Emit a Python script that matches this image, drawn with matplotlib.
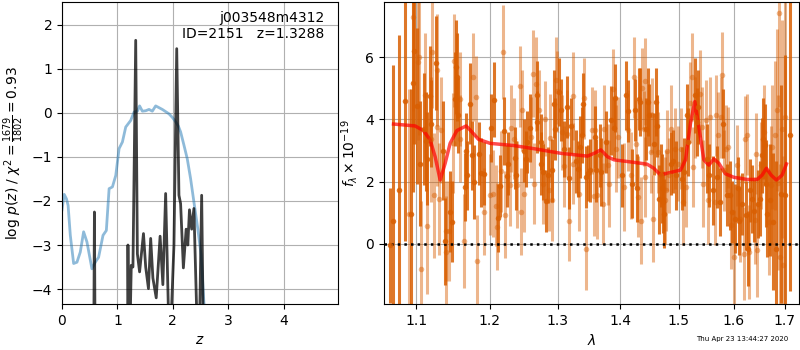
import matplotlib
matplotlib.use('Agg')
import matplotlib.pyplot as plt
from matplotlib.ticker import NullLocator

# --- left panel: log p(z) ---
z_chi2 = [0.00, 0.04, 0.08, 0.11, 0.15, 0.21, 0.27, 0.33, 0.39, 0.45,
          0.54, 0.60, 0.66, 0.74, 0.80, 0.85, 0.91, 0.97, 1.03, 1.09,
          1.15, 1.24, 1.30, 1.36, 1.40, 1.45, 1.51, 1.57, 1.63, 1.69,
          1.75, 1.81, 1.87, 1.93, 1.99, 2.05, 2.10, 2.14, 2.20, 2.26,
          2.32, 2.38, 2.45, 2.51, 2.56, 2.62]
logpz_chi2 = [-2.20, -1.85, -1.95, -2.10, -2.78, -3.42, -3.39, -3.16, -2.70, -2.93,
              -3.54, -3.39, -3.28, -2.78, -2.67, -1.72, -1.68, -1.42, -0.81, -0.66,
              -0.32, -0.17, 0.02, 0.04, 0.16, 0.04, 0.05, 0.08, 0.04, 0.16,
              0.12, 0.08, 0.03, -0.02, -0.10, -0.20, -0.30, -0.43, -0.73, -1.04,
              -1.49, -2.02, -2.63, -3.23, -4.30, -5.0]

z_fit = [0.57, 0.585, 0.60, 1.18, 1.19, 1.21, 1.25, 1.28, 1.33, 1.36,
         1.40, 1.47, 1.51, 1.56, 1.60, 1.64, 1.70, 1.77, 1.82, 1.87,
         1.92, 1.96, 2.02, 2.07, 2.11, 2.14, 2.19, 2.24, 2.27, 2.30,
         2.34, 2.38, 2.43, 2.48, 2.52, 2.55]
logpz_fit = [-6.0, -2.25, -6.0, -6.0, -3.0, -6.0, -3.46, -3.50, 1.65, -3.20,
             -3.61, -2.74, -3.50, -3.99, -2.85, -3.75, -4.20, -2.80, -3.90, -1.83,
             -4.50, -5.0, -3.0, 1.46, -1.87, -2.06, -3.52, -2.64, -3.0, -2.20,
             -2.64, -2.17, -4.5, -5.0, -1.87, -5.0]

# --- right panel: spectrum ---
dark_wave = [1.066, 1.070, 1.078, 1.085, 1.093, 1.096, 1.097, 1.101,
             1.105, 1.110, 1.113, 1.114, 1.118, 1.119, 1.126, 1.136,
             1.138, 1.145, 1.147, 1.151, 1.153, 1.154, 1.156, 1.165,
             1.167, 1.168, 1.172, 1.175, 1.178, 1.185, 1.187, 1.192,
             1.202, 1.206, 1.211, 1.215, 1.220, 1.224, 1.226, 1.236,
             1.237, 1.249, 1.252, 1.254, 1.258, 1.268, 1.269, 1.274,
             1.275, 1.278, 1.282, 1.285, 1.291, 1.294, 1.296, 1.302,
             1.305, 1.310, 1.314, 1.317, 1.321, 1.328, 1.331, 1.335,
             1.338, 1.339, 1.344, 1.348, 1.351, 1.359,
             1.360, 1.366, 1.368, 1.376, 1.384, 1.389, 1.391, 1.403,
             1.410, 1.413, 1.420, 1.424, 1.428, 1.431, 1.433, 1.443,
             1.447, 1.448, 1.457, 1.460, 1.461, 1.465, 1.468, 1.470,
             1.472, 1.474, 1.486, 1.490, 1.495, 1.505, 1.510, 1.514,
             1.517, 1.529, 1.532,
             1.534, 1.550, 1.555, 1.561, 1.570, 1.574, 1.581, 1.587,
             1.594, 1.598, 1.603, 1.608, 1.611, 1.616, 1.624, 1.628,
             1.632, 1.635, 1.639, 1.647, 1.650, 1.655, 1.657, 1.661,
             1.663, 1.665, 1.671, 1.677, 1.682, 1.692, 1.701, 1.710]
dark_flux = [-0.05, 0.74, 1.72, 4.60, 0.96, 5.17, 6.20, 4.43,
             2.58, 3.70, 3.29, 2.74, 4.75, 3.86, 5.81, 3.00,
             0.09, 1.03, 0.71, 4.66, 5.68, 5.36, 4.13, 1.83,
             3.00, 2.20, 4.50, 2.84, 1.99, 2.90, 2.29, 2.26,
             3.72, 4.63, 0.83, 1.85, 3.63, 2.17, 2.58, 2.76,
             2.20, 3.00, 2.74, 3.27, 3.73, 4.77, 3.91, 3.27,
             2.58, 2.31, 1.37, 2.20, 2.36, 4.50, 3.70, 4.88,
             4.29, 3.06, 4.40, 2.12, 3.79, 2.65, 2.42, 3.11,
             3.51, 4.50, 2.15, 2.29, 2.36, 3.43,
             2.36, 2.84, 2.31, 3.27, 3.97, 3.72, 4.68, 2.20,
             4.77, 4.26, 1.94, 4.29, 1.80, 4.66, 4.56, 3.68,
             4.56, 4.15, 3.22, 4.56, 3.79, 1.43, 2.20, 1.78,
             1.35, 0.97, 2.58, 2.65, 2.20, 2.10, 2.31, 4.13,
             3.27, 4.77, 3.91,
             4.40, 2.74, 2.20, 1.72, 2.15, 1.35, 3.86, 1.58,
             1.56, 1.03, 0.81, 1.78, 0.73, 1.29, 0.92, -0.15,
             1.72, 1.45, 1.05, 1.29, 1.45, 2.84, 3.38, 3.19,
             1.94, 0.97, 1.40, 0.71, -0.15, 1.61, 1.56, 3.50]
dark_err = [1.85, 5.0, 5.0, 4.5, 4.0, 3.5, 3.0, 2.5,
            2.0, 1.8, 1.6, 1.5, 1.6, 1.4, 1.5, 1.6,
            1.4, 1.3, 1.3, 1.5, 1.5, 1.4, 1.2, 1.1,
            1.2, 1.1, 1.3, 1.1, 1.2, 1.0, 1.1, 1.0,
            1.1, 1.2, 1.1, 1.0, 1.1, 1.0, 1.0, 1.0,
            1.1, 1.0, 0.9, 1.0, 1.1, 1.1, 1.0, 0.9,
            1.0, 0.9, 1.0, 0.9, 1.0, 1.1, 1.0, 1.1,
            1.0, 0.9, 1.0, 1.0, 0.9, 1.0, 0.9, 1.0,
            0.9, 1.0, 1.0, 0.9, 1.0, 1.0,
            1.0, 1.0, 1.1, 1.0, 1.1, 1.0, 1.1, 1.0,
            1.1, 1.0, 1.1, 1.0, 1.1, 1.0, 1.1, 1.0,
            1.1, 1.0, 1.0, 1.1, 1.0, 1.1, 1.0, 1.1,
            1.0, 1.1, 1.0, 1.0, 1.1, 1.0, 1.1, 1.0,
            1.1, 1.2, 1.1,
            1.2, 1.1, 1.0, 1.1, 1.0, 1.1, 1.1, 1.0,
            1.1, 1.0, 1.1, 1.0, 1.1, 1.0, 1.1, 1.2,
            1.0, 1.1, 1.0, 1.1, 1.2, 1.2, 1.3, 1.3,
            1.4, 1.4, 1.8, 2.2, 2.8, 3.5, 4.5, 5.0]

light_wave = [1.091, 1.096, 1.102, 1.104, 1.106, 1.112, 1.114, 1.120,
              1.121, 1.123, 1.127, 1.128, 1.130, 1.133, 1.139, 1.140,
              1.143, 1.149, 1.150, 1.158, 1.159, 1.164, 1.177, 1.181,
              1.182, 1.192, 1.200,
              1.204, 1.209, 1.210, 1.216, 1.219, 1.221, 1.229, 1.230,
              1.234, 1.239, 1.244, 1.245, 1.247, 1.250, 1.259, 1.263,
              1.264, 1.267, 1.272, 1.277, 1.280, 1.287, 1.289, 1.292,
              1.297, 1.299, 1.306, 1.309, 1.315, 1.318, 1.323, 1.324,
              1.333, 1.341, 1.345, 1.353, 1.357,
              1.358, 1.361, 1.372, 1.373, 1.379, 1.382, 1.387, 1.393,
              1.396, 1.406, 1.412, 1.418, 1.422, 1.426, 1.429, 1.435,
              1.436, 1.439, 1.441, 1.442, 1.451, 1.454, 1.455, 1.464,
              1.476, 1.478, 1.480, 1.483, 1.487, 1.493, 1.499, 1.503,
              1.507, 1.512, 1.520, 1.524, 1.526,
              1.529, 1.537, 1.542, 1.544, 1.548, 1.552, 1.557, 1.565,
              1.568, 1.571, 1.576, 1.579, 1.583, 1.585, 1.590, 1.595,
              1.600, 1.606, 1.613, 1.619, 1.621, 1.626, 1.629, 1.641,
              1.643, 1.645, 1.652, 1.658, 1.668, 1.673, 1.675, 1.681,
              1.684, 1.687, 1.688, 1.690, 1.695, 1.697, 1.700]
light_flux = [0.97, 7.28, 5.84, 6.00, -0.81, 4.77, 0.58, 3.36,
              6.18, 1.56, 5.60, 3.75, 1.45, 3.65, -0.26, 0.41,
              0.41, 3.24, 5.89, 4.66, 3.38, 0.10, 5.36, 4.72,
              -0.56, 1.03, 1.58,
              1.61, 1.22, 0.55, 2.33, 6.16, 0.94, 1.88, 3.72,
              3.38, 1.90, 5.07, 1.03, 4.29, 1.59, 3.43, 5.47,
              1.94, 5.14, 4.29, 1.94, 4.02, 1.72, 3.40, 1.40,
              5.25, 4.90, 3.59, 2.50, 3.54, 0.74, 4.75, 2.58,
              1.61, 4.68, -0.17, 3.65, 1.54,
              3.65, 1.56, 1.29, 3.70, 2.55, 1.94, 4.96, 3.06,
              3.43, 1.83, 3.65, 2.20, 5.36, 3.22, 1.51, 0.74,
              5.00, 3.70, 2.15, 5.22, 2.95, 4.13, 0.81, 2.95,
              1.40, 1.72, 3.00, 2.20, 3.70, 3.06, 2.58, 3.06,
              1.35, 1.83, 4.53, 5.36, 2.47,
              4.07, 4.82, 3.75, 1.94, 3.97, 1.40, 4.07, 1.35,
              4.13, 3.49, 4.07, 5.41, 2.36, 3.06, 3.11, 0.60,
              -0.42, 2.52, 0.81, -0.31, 3.36, 3.51, -0.26, 0.76,
              2.90, -0.20, 2.52, 3.61, 0.71, 1.90, 3.11, 3.49,
              4.29, 1.97, 7.41, -0.42, 3.70, -0.68, 4.07]
light_err = [4.0, 3.0, 2.5, 2.5, 2.2, 2.0, 2.2, 2.0,
             1.8, 2.0, 1.8, 1.9, 1.8, 1.7, 1.8, 1.6,
             1.6, 1.6, 1.5, 1.5, 1.4, 1.5, 1.4, 1.3,
             1.5, 1.4, 1.3,
             1.4, 1.3, 1.4, 1.3, 1.5, 1.4, 1.3, 1.4,
             1.3, 1.4, 1.3, 1.4, 1.3, 1.2, 1.3, 1.4,
             1.3, 1.5, 1.3, 1.3, 1.2, 1.3, 1.4, 1.3,
             1.4, 1.3, 1.2, 1.3, 1.4, 1.3, 1.4, 1.3,
             1.2, 1.3, 1.3, 1.4, 1.3,
             1.3, 1.4, 1.3, 1.4, 1.3, 1.4, 1.3, 1.4,
             1.3, 1.4, 1.3, 1.4, 1.3, 1.4, 1.3, 1.4,
             1.3, 1.2, 1.3, 1.4, 1.3, 1.2, 1.4, 1.3,
             1.4, 1.3, 1.3, 1.2, 1.4, 1.3, 1.2, 1.3,
             1.4, 1.3, 1.3, 1.4, 1.3,
             1.3, 1.4, 1.3, 1.4, 1.3, 1.4, 1.3, 1.4,
             1.3, 1.4, 1.3, 1.4, 1.3, 1.4, 1.3, 1.4,
             1.5, 1.3, 1.4, 1.5, 1.4, 1.3, 1.5, 1.4,
             1.3, 1.5, 1.4, 1.5, 1.7, 1.9, 2.0, 2.4,
             2.6, 2.8, 3.0, 3.0, 3.5, 3.5, 4.0]

model_wave = [1.071, 1.0985, 1.1095, 1.1183, 1.1249, 1.1316, 1.1383, 1.1450, 1.1541, 1.1669,
              1.1747, 1.1840, 1.2004, 1.2341, 1.2695, 1.3048, 1.3466, 1.3572, 1.3680, 1.3787,
              1.3896, 1.4225, 1.4449, 1.4563, 1.4679, 1.4795, 1.4911, 1.5029, 1.5118, 1.5207,
              1.5285, 1.5358, 1.5449, 1.5540, 1.5632, 1.5725, 1.5849, 1.6006, 1.6260, 1.6453,
              1.6549, 1.6634, 1.6726, 1.6832, 1.6945, 1.7032]
model_flux = [3.85, 3.79, 3.64, 3.34, 2.80, 2.05, 2.59, 3.23, 3.64, 3.79,
              3.60, 3.36, 3.23, 3.16, 3.04, 2.91, 2.82, 2.91, 3.02, 2.80,
              2.70, 2.62, 2.56, 2.43, 2.21, 2.27, 2.32, 2.37, 2.70, 3.87,
              4.57, 3.76, 2.70, 2.53, 2.73, 2.59, 2.25, 2.14, 2.07, 2.07,
              2.21, 2.43, 2.21, 2.05, 2.21, 2.57]

wave_ticks = [1.1, 1.2, 1.3, 1.4, 1.5, 1.6, 1.7]
orange = '#d95f02'

fig = plt.figure(figsize=(8, 3.5), dpi=100)

# p(z)
ax = fig.add_axes([0.0775, 0.1314, 0.345, 0.8629])
ax.plot(z_chi2, logpz_chi2, color='#1f77b4', alpha=0.5, lw=2)
ax.plot(z_fit, logpz_fit, color='k', alpha=0.75, lw=2)
ax.set_xlim(0, 4.98)
ax.set_ylim(-4.34, 2.52)
ax.set_xticks([0, 1, 2, 3, 4])
ax.grid()
ax.set_xlabel('$z$')
ax.set_ylabel(r'log $p(z)$' + ' / ' + r'$\chi^2=\frac{1679}{1802}=0.93$')
ax.text(0.95, 0.97, 'j003548m4312\nID=2151   z=1.3288', ha='right', va='top',
        transform=ax.transAxes, fontsize=10)

# spectrum
bx = fig.add_axes([0.48, 0.1314, 0.519, 0.8629])
bx.errorbar(light_wave, light_flux, yerr=light_err, fmt='o', ms=4, color=orange,
            alpha=0.45, elinewidth=2.2, capsize=0, mew=0)
bx.errorbar(dark_wave, dark_flux, yerr=dark_err, fmt='o', ms=4, color=orange,
            alpha=0.85, elinewidth=2.2, capsize=0, mew=0)
bx.plot(model_wave, model_flux, color='r', alpha=0.7, lw=2.5)
bx.axhline(0, color='k', linestyle=':', lw=1.8)
bx.set_xscale('log')
bx.xaxis.set_minor_locator(NullLocator())
bx.set_xticks(wave_ticks)
bx.set_xticklabels([str(t) for t in wave_ticks])
bx.set_xlim(1.059, 1.729)
bx.set_ylim(-1.93, 7.77)
bx.set_yticks([0, 2, 4, 6])
bx.grid()
bx.set_xlabel(r'$\lambda$')
bx.set_ylabel(r'$f_\lambda\times10^{-19}$')

fig.text(0.985, 0.022, 'Thu Apr 23 13:44:27 2020', ha='right', va='bottom', fontsize=5)

fig.savefig('out.png', dpi=100)
